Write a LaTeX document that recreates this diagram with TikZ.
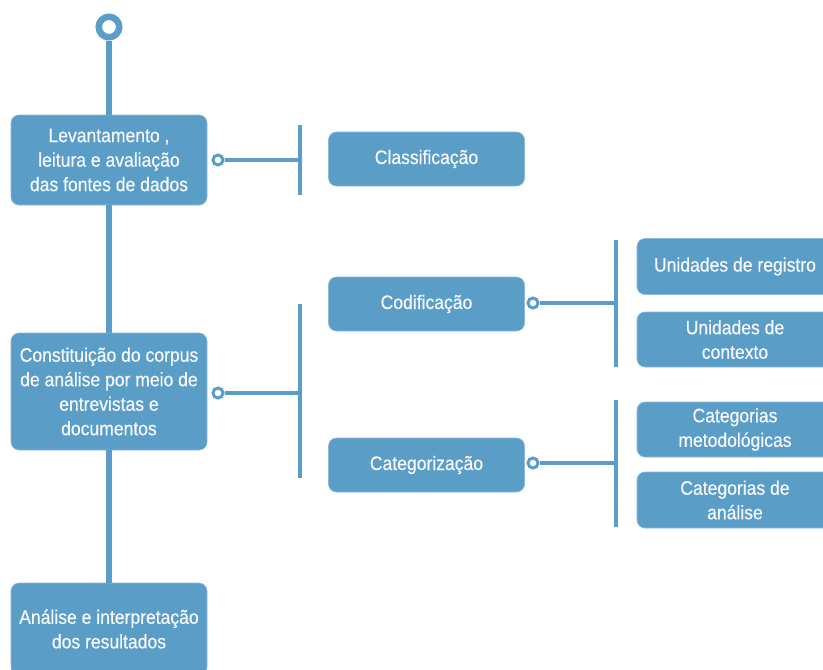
\documentclass[tikz,border=0pt]{standalone}
\usepackage{fontspec}
\setmainfont[FakeStretch=0.90,FakeBold=0.5]{Liberation Sans}
\definecolor{boxblue}{RGB}{90,157,199}
\definecolor{boxtext}{RGB}{246,248,250}
\tikzset{
  box/.style={rectangle, rounded corners=8pt, fill=boxblue, draw=boxblue!70!white, line width=0.6pt,
    text=boxtext, align=center, inner sep=0pt,
    font=\fontsize{19.5}{24.5}\selectfont},
  bigbox/.style={box, minimum width=196pt},
  midbox/.style={box, minimum width=196pt, minimum height=54pt},
  leafbox/.style={box, minimum width=196pt, minimum height=56pt},
  trunk/.style={draw=boxblue, line width=6pt},
  link/.style={draw=boxblue, line width=4pt},
  bar/.style={draw=boxblue, line width=4pt},
  knob/.style={circle, draw=boxblue, fill=white, line width=3pt, inner sep=0pt, minimum size=10pt},
  topknob/.style={circle, draw=boxblue, fill=white, line width=6.5pt, inner sep=0pt, minimum size=20.5pt}
}
\begin{document}
\begin{tikzpicture}[x=1pt,y=-1pt]
  \useasboundingbox (0,0) rectangle (823,670);
  \clip (0,0) rectangle (823,670);

  % main column
  \node[bigbox, minimum height=90pt] (b1) at (109,160) {Levantamento ,\\leitura e avaliação\\das fontes de dados};
  \node[bigbox, minimum height=117pt] (b2) at (109,391.5) {Constituição do corpus\\de análise por meio de\\entrevistas e\\documentos};
  \node[bigbox, minimum height=92pt] (b3) at (109,629) {Análise e interpretação\\dos resultados};

  % second level
  \node[midbox] (cl) at (426.5,159) {Classificação};
  \node[midbox] (co) at (426.5,304) {Codificação};
  \node[midbox] (ca) at (426.5,465) {Categorização};

  % third level
  \node[leafbox] (ur) at (735,266.5) {Unidades de registro};
  \node[leafbox, minimum height=55pt] (uc) at (735,339.5) {Unidades de\\contexto};
  \node[leafbox, minimum height=55pt] (cm) at (735,429.5) {Categorias\\metodológicas};
  \node[leafbox] (cn) at (735,500) {Categorias de\\análise};

  % junction bars
  \coordinate (j1) at (300,160);  \coordinate (j1t) at (300,125); \coordinate (j1b) at (300,195);
  \coordinate (j2) at (300,393);  \coordinate (j2t) at (300,304); \coordinate (j2b) at (300,478);
  \coordinate (j3) at (616,303);  \coordinate (j3t) at (616,240); \coordinate (j3b) at (616,367);
  \coordinate (j4) at (616,463);  \coordinate (j4t) at (616,400); \coordinate (j4b) at (616,527);

  % trunk
  \node[topknob] (top) at (109,27) {};
  \path[trunk] (top.south) -- (b1.north);
  \path[trunk] (b1.south) -- (b2.north);
  \path[trunk] (b2.south) -- (b3.north);

  % branches
  \node[knob] (k1) at (218,160) {};
  \node[knob] (k2) at (218,393) {};
  \node[knob] (k3) at (533,303) {};
  \node[knob] (k4) at (533,463) {};
  \path[link] (k1.east) -- (j1);
  \path[link] (k2.east) -- (j2);
  \path[link] (k3.east) -- (j3);
  \path[link] (k4.east) -- (j4);
  \path[bar] (j1t) -- (j1b);
  \path[bar] (j2t) -- (j2b);
  \path[bar] (j3t) -- (j3b);
  \path[bar] (j4t) -- (j4b);
\end{tikzpicture}
\end{document}
